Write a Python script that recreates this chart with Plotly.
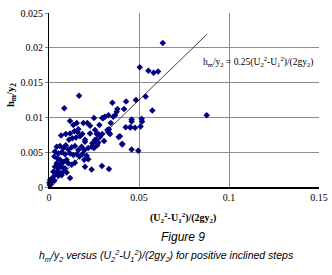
import plotly.graph_objects as go

x_vals = [0.0085, 0.0167, 0.0352, 0.0380, 0.0417, 0.0428, 0.0483, 0.0504, 0.0537, 0.0552,
          0.0581, 0.0606, 0.0632, 0.0574, 0.0876, 0.0496, 0.0459, 0.0515, 0.0517, 0.0509,
          0.0478, 0.0454, 0.0387, 0.0407, 0.0333, 0.0294, 0.0237,
          0.0117, 0.0135, 0.0154, 0.0163, 0.0141, 0.0159, 0.0191, 0.0213, 0.0228, 0.0250,
          0.0280, 0.0296, 0.0067, 0.0093, 0.0117, 0.0111, 0.0130, 0.0150, 0.0172, 0.0185,
          0.0200, 0.0228, 0.0265, 0.0283, 0.0256, 0.0241, 0.0274, 0.0268, 0.0043, 0.0061,
          0.0080, 0.0093, 0.0107, 0.0126, 0.0144, 0.0163, 0.0181, 0.0196, 0.0218, 0.0237,
          0.0033, 0.0052, 0.0070, 0.0089, 0.0117, 0.0135, 0.0154, 0.0169, 0.0185, 0.0209,
          0.0196, 0.0218, 0.0030, 0.0048, 0.0061, 0.0080, 0.0098, 0.0107, 0.0126, 0.0144,
          0.0043, 0.0061, 0.0033, 0.0052, 0.0070, 0.0089, 0.0200, 0.0024, 0.0043, 0.0061,
          0.0080, 0.0098, 0.0033, 0.0052, 0.0070, 0.0117, 0.0018, 0.0006, 0.0015, 0.0030,
          0.0002, 0.0011, 0.0004, 0.0256, 0.0376, 0.0367, 0.0330, 0.0311, 0.0302, 0.0357,
          0.0343, 0.0333, 0.0324, 0.0296, 0.0274, 0.0333, 0.0339, 0.0261, 0.0261, 0.0394,
          0.0407, 0.0426, 0.0450, 0.0459, 0.0459, 0.0250, 0.0200, 0.0306]
y_vals = [0.0113, 0.0131, 0.0121, 0.0112, 0.0112, 0.0123, 0.0125, 0.0172, 0.0130, 0.0167,
          0.0164, 0.0166, 0.0207, 0.0110, 0.0103, 0.0052, 0.0054, 0.0098, 0.0094, 0.0087,
          0.0085, 0.0086, 0.0072, 0.0062, 0.0026, 0.0030, 0.0025,
          0.0095, 0.0089, 0.0092, 0.0083, 0.0080, 0.0079, 0.0092, 0.0092, 0.0088, 0.0099,
          0.0089, 0.0099, 0.0074, 0.0076, 0.0077, 0.0068, 0.0070, 0.0071, 0.0073, 0.0076,
          0.0068, 0.0077, 0.0076, 0.0072, 0.0068, 0.0063, 0.0064, 0.0060, 0.0058, 0.0059,
          0.0056, 0.0060, 0.0054, 0.0057, 0.0059, 0.0053, 0.0058, 0.0053, 0.0056, 0.0058,
          0.0051, 0.0048, 0.0050, 0.0047, 0.0048, 0.0046, 0.0047, 0.0044, 0.0047, 0.0045,
          0.0039, 0.0040, 0.0044, 0.0041, 0.0039, 0.0036, 0.0039, 0.0034, 0.0032, 0.0035,
          0.0034, 0.0032, 0.0029, 0.0027, 0.0029, 0.0027, 0.0029, 0.0022, 0.0022, 0.0020,
          0.0022, 0.0021, 0.0017, 0.0016, 0.0017, 0.0013, 0.0013, 0.0010, 0.0008, 0.0009,
          0.0006, 0.0004, 0.0003, 0.0082, 0.0108, 0.0103, 0.0103, 0.0101, 0.0099, 0.0101,
          0.0092, 0.0083, 0.0082, 0.0076, 0.0076, 0.0078, 0.0076, 0.0068, 0.0064, 0.0073,
          0.0061, 0.0086, 0.0086, 0.0097, 0.0094, 0.0056, 0.0065, 0.0066]

fit_x = [0.0, 0.088]
fit_slope = 0.25
fit_y = [fit_slope * v for v in fit_x]

x_ticks = [0, 0.05, 0.1, 0.15]
x_tick_text = ["0", "0.05", "0.1", "0.15"]
y_ticks = [0, 0.005, 0.01, 0.015, 0.02, 0.025]
y_tick_text = ["0", "0.005", "0.01", "0.015", "0.02", "0.025"]

serif = "Liberation Serif, Times New Roman, serif"
sans = "Liberation Sans, Arial, sans-serif"

W, H = 332, 275
ML, MR, MT, MB = 49, 13, 13, 88
plot_w = W - ML - MR
plot_h = H - MT - MB


def px_to_paper(px, py):
    return (px - ML) / plot_w, (H - MB - py) / plot_h


fig = go.Figure()
fig.add_trace(go.Scatter(x=fit_x, y=fit_y, mode="lines",
                         line=dict(color="#404040", width=1), hoverinfo="skip"))
fig.add_trace(go.Scatter(x=x_vals, y=y_vals, mode="markers",
                         marker=dict(symbol="diamond", size=5, color="#000080",
                                     line=dict(width=0)),
                         cliponaxis=False))

ytx, yty = px_to_paper(11, 95)
xtx, xty = px_to_paper(183, 218)
fx, fy = px_to_paper(183, 237)
cx, cy = px_to_paper(166, 256)

fig.update_layout(
    width=W, height=H,
    margin=dict(l=ML, r=MR, t=MT, b=MB, autoexpand=False),
    paper_bgcolor="white", plot_bgcolor="white",
    showlegend=False,
    font=dict(family=serif, size=10, color="black"),
    xaxis=dict(range=[0, 0.15], tickvals=x_ticks, ticktext=x_tick_text,
               showgrid=True, gridcolor="#8c8c8c", gridwidth=1,
               showline=True, linecolor="black", linewidth=1.5,
               ticks="", zeroline=False, automargin=False,
               tickfont=dict(family=serif, size=10)),
    yaxis=dict(range=[0, 0.025], tickvals=y_ticks, ticktext=y_tick_text,
               showgrid=True, gridcolor="#8c8c8c", gridwidth=1,
               showline=True, linecolor="black", linewidth=1.2,
               ticks="outside", ticklen=3, tickcolor="#808080",
               zeroline=False, automargin=False,
               tickfont=dict(family=serif, size=10)),
    annotations=[
        dict(x=0.148, y=0.018, xref="x", yref="y", xanchor="right", yanchor="middle",
             text="h<sub>m</sub>/y<sub>2</sub> = 0.25(U<sub>2</sub><sup>2</sup>-U<sub>1</sub><sup>2</sup>)/(2gy<sub>2</sub>)",
             showarrow=False, font=dict(family=serif, size=9.5, color="black")),
        dict(x=ytx, y=yty, xref="paper", yref="paper", xanchor="center", yanchor="middle",
             text="<b>h<sub>m</sub>/y<sub>2</sub></b>", textangle=-90,
             showarrow=False, font=dict(family=serif, size=10.5, color="black")),
        dict(x=xtx, y=xty, xref="paper", yref="paper", xanchor="center", yanchor="middle",
             text="<b>(U<sub>2</sub><sup>2</sup>-U<sub>1</sub><sup>2</sup>)/(2gy<sub>2</sub>)</b>",
             showarrow=False, font=dict(family=serif, size=10, color="black")),
        dict(x=fx, y=fy, xref="paper", yref="paper", xanchor="center", yanchor="middle",
             text="<i>Figure 9</i>", showarrow=False,
             font=dict(family=sans, size=12, color="black")),
        dict(x=cx, y=cy, xref="paper", yref="paper", xanchor="center", yanchor="middle",
             text="<i>h<sub>m</sub>/y<sub>2</sub> versus (U<sub>2</sub><sup>2</sup>-U<sub>1</sub><sup>2</sup>)/(2gy<sub>2</sub>) for positive inclined steps</i>",
             showarrow=False, font=dict(family=sans, size=10.5, color="black")),
    ],
)

fig.write_html("out.html", config={"displayModeBar": False},
               post_script="document.body.style.margin='0';document.body.style.padding='0';")
